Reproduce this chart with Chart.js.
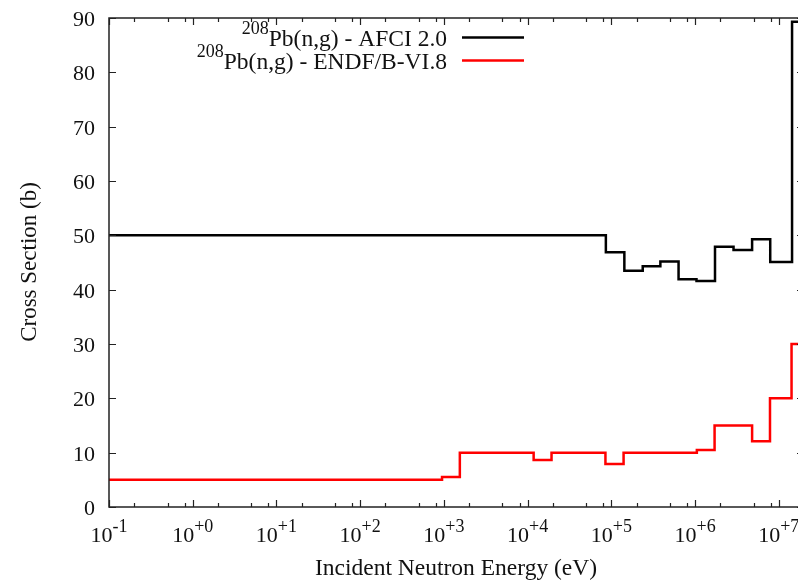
<!DOCTYPE html>
<html>
<head>
<meta charset="utf-8">
<script src="https://cdn.jsdelivr.net/npm/chart.js@4/dist/chart.umd.min.js"></script>
<style>
  html, body { margin: 0; padding: 0; overflow: hidden; background: #fff; }
  canvas { display: block; }
</style>
</head>
<body>
<canvas id="xsChart" width="830" height="580"></canvas>
<script>
// group boundaries (eV) and cross sections (b)
const afciEdges = [0.1, 8.6e4, 1.43e5, 2.37e5, 3.85e5, 6.35e5, 1.04e6, 1.73e6, 2.88e6, 4.8e6, 7.9e6, 1.44e7, 2e7];
const afciValues = [50, 46.9, 43.5, 44.3, 45.2, 41.9, 41.6, 47.9, 47.3, 49.3, 45.1, 89.3];
const endfEdges = [0.1, 9.5e2, 1.55e3, 1.18e4, 1.93e4, 8.5e4, 1.4e5, 1.05e6, 1.71e6, 4.8e6, 7.85e6, 1.42e7, 2e7];
const endfValues = [5, 5.5, 10, 8.65, 10, 7.9, 10, 10.5, 15, 12.1, 20, 30];

const legendLabels = ['Pb(n,g) - AFCI 2.0', 'Pb(n,g) - ENDF/B-VI.8'];
const legendSup = '208';
const xTickExponents = [-1, 0, 1, 2, 3, 4, 5, 6, 7];
const xMinorFactors = [2, 5, 8];
const yTicks = [0, 10, 20, 30, 40, 50, 60, 70, 80, 90];

const FONT = '"Liberation Serif", "DejaVu Serif", serif';

function stepPoints(edges, values) {
    const pts = values.map((v, i) => ({ x: edges[i], y: v }));
    pts.push({ x: edges[edges.length - 1], y: values[values.length - 1] });
    return pts;
}

function expLabel(e) {
    return (e < 0 ? '-' : '+') + Math.abs(e);
}

// "10" with a raised exponent, centred on x
function drawPower(ctx, x, y, exp) {
    ctx.font = '22px ' + FONT;
    const wBase = ctx.measureText('10').width;
    ctx.font = '18px ' + FONT;
    const wExp = ctx.measureText(exp).width;
    const start = x - (wBase + wExp) / 2;
    ctx.textAlign = 'left';
    ctx.font = '22px ' + FONT;
    ctx.fillText('10', start, y);
    ctx.font = '18px ' + FONT;
    ctx.fillText(exp, start + wBase, y - 10);
}

const framePlugin = {
    id: 'frame',
    afterDraw(chart) {
        const ctx = chart.ctx;
        const a = chart.chartArea;
        const xs = chart.scales.x;
        const ys = chart.scales.y;
        ctx.save();

        // border
        ctx.strokeStyle = '#222';
        ctx.lineWidth = 1.5;
        ctx.strokeRect(a.left, a.top, a.right - a.left, a.bottom - a.top);

        ctx.lineWidth = 1.2;
        ctx.beginPath();
        yTicks.forEach(v => {
            const py = Math.round(ys.getPixelForValue(v)) + 0.5;
            ctx.moveTo(a.left, py); ctx.lineTo(a.left + 7, py);
            ctx.moveTo(a.right, py); ctx.lineTo(a.right - 7, py);
        });
        xTickExponents.forEach(e => {
            const px = Math.round(xs.getPixelForValue(Math.pow(10, e))) + 0.5;
            ctx.moveTo(px, a.bottom); ctx.lineTo(px, a.bottom - 7);
            ctx.moveTo(px, a.top); ctx.lineTo(px, a.top + 7);
            xMinorFactors.forEach(f => {
                const v = f * Math.pow(10, e);
                if (v > xs.max) return;
                const mx = Math.round(xs.getPixelForValue(v)) + 0.5;
                ctx.moveTo(mx, a.bottom); ctx.lineTo(mx, a.bottom - 4);
                ctx.moveTo(mx, a.top); ctx.lineTo(mx, a.top + 4);
            });
        });
        ctx.stroke();

        ctx.fillStyle = '#111';
        ctx.textBaseline = 'alphabetic';

        // y tick labels
        ctx.font = '22px ' + FONT;
        ctx.textAlign = 'right';
        yTicks.forEach(v => {
            ctx.fillText(String(v), a.left - 14, ys.getPixelForValue(v) + 8);
        });

        // x tick labels
        xTickExponents.forEach(e => {
            drawPower(ctx, xs.getPixelForValue(Math.pow(10, e)), a.bottom + 35, expLabel(e));
        });

        // axis titles
        ctx.font = '23.5px ' + FONT;
        ctx.textAlign = 'center';
        ctx.fillText('Incident Neutron Energy (eV)', 456, 575);
        ctx.save();
        ctx.translate(36, 262);
        ctx.rotate(-Math.PI / 2);
        ctx.font = '23px ' + FONT;
        ctx.fillText('Cross Section (b)', 0, 0);
        ctx.restore();

        // legend
        const colors = chart.data.datasets.map(d => d.borderColor);
        legendLabels.forEach((label, i) => {
            const base = 46 + i * 23;
            ctx.font = '23.5px ' + FONT;
            const w = ctx.measureText(label).width;
            ctx.textAlign = 'right';
            ctx.fillText(label, 447, base);
            ctx.font = '18px ' + FONT;
            ctx.fillText(legendSup, 447 - w, base - 12);
            ctx.strokeStyle = colors[i];
            ctx.lineWidth = 2.5;
            ctx.beginPath();
            ctx.moveTo(462, base - 8.5);
            ctx.lineTo(524, base - 8.5);
            ctx.stroke();
        });

        ctx.restore();
    }
};

new Chart(document.getElementById('xsChart').getContext('2d'), {
    type: 'scatter',
    data: {
        datasets: [
            {
                label: legendSup + legendLabels[0],
                data: stepPoints(afciEdges, afciValues),
                borderColor: '#000000',
                borderWidth: 2.5,
                showLine: true,
                stepped: 'before',
                pointRadius: 0
            },
            {
                label: legendSup + legendLabels[1],
                data: stepPoints(endfEdges, endfValues),
                borderColor: '#ff0000',
                borderWidth: 2.5,
                showLine: true,
                stepped: 'before',
                pointRadius: 0
            }
        ]
    },
    options: {
        responsive: false,
        animation: false,
        layout: { padding: { left: 109, top: 18, right: 26, bottom: 73 } },
        scales: {
            x: { type: 'logarithmic', min: 0.1, max: 2e7, display: false },
            y: { type: 'linear', min: 0, max: 90, display: false }
        },
        plugins: {
            legend: { display: false },
            tooltip: { enabled: false }
        }
    },
    plugins: [framePlugin]
});
</script>
</body>
</html>
